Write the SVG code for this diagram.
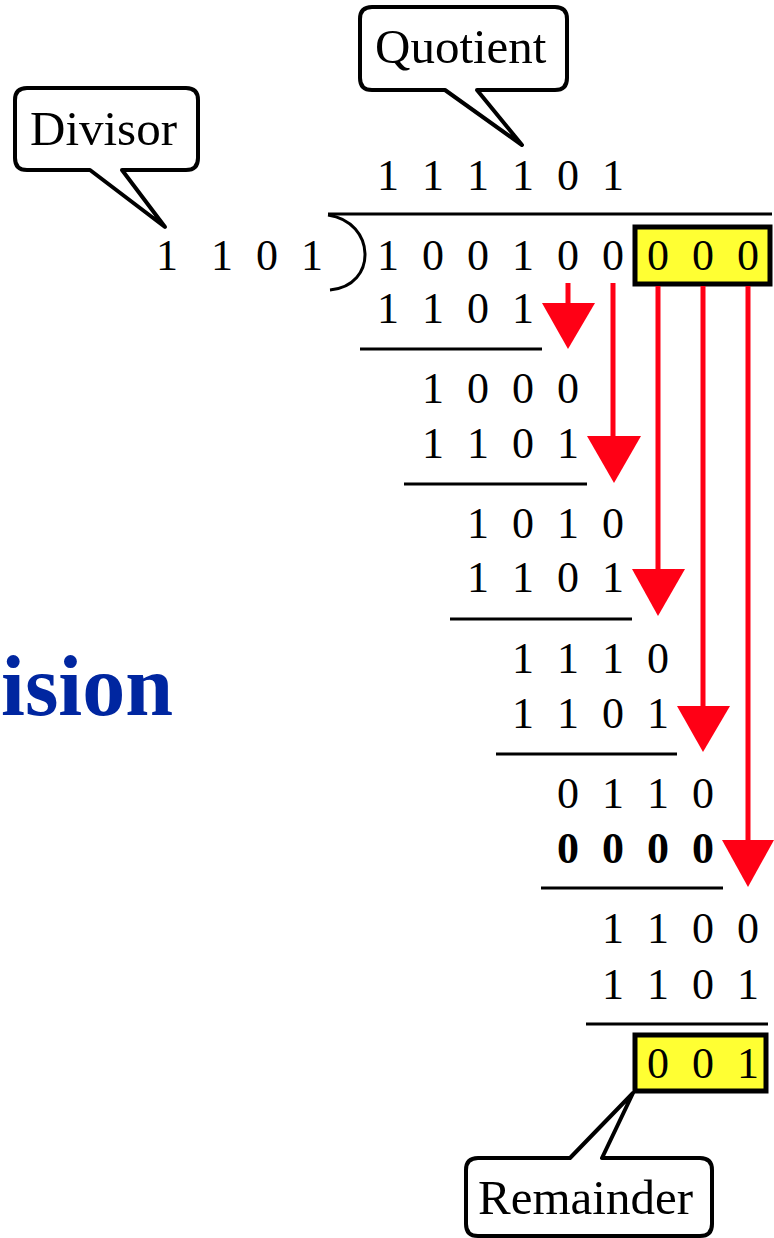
<svg xmlns="http://www.w3.org/2000/svg" width="774" height="1238" viewBox="0 0 774 1238">
<style>
.d{font-family:"Liberation Serif","Times New Roman",serif;font-size:44px;fill:#000;text-anchor:middle}
.b{font-weight:bold}
.lbl{font-family:"Liberation Serif","Times New Roman",serif;font-size:49px;fill:#000}
.call{fill:#fff;stroke:#000;stroke-width:4;stroke-linejoin:round}
.ul{stroke:#000;stroke-width:3}
.hl{fill:#ffff33;stroke:#000;stroke-width:5}
.ar{stroke:#ff0015;stroke-width:5;fill:none}
.ah{fill:#ff0015}
</style>
<rect width="774" height="1238" fill="#fff"/>
<text x="1" y="715" font-family="'Liberation Serif','Times New Roman',serif" font-weight="bold" font-size="86" fill="#0026a0">ision</text>
<g id="divisor-callout">
<path class="call" d="M27,88 H186 Q198,88 198,100 V158 Q198,170 186,170 H122 L165,227 L90,170 H27 Q15,170 15,158 V100 Q15,88 27,88 Z"/>
<text class="lbl" x="30" y="145">Divisor</text>
</g>
<g id="quotient-callout">
<path class="call" d="M372,7 H555 Q567,7 567,19 V78 Q567,90 555,90 H477 L522,145 L445,90 H372 Q360,90 360,78 V19 Q360,7 372,7 Z"/>
<text class="lbl" x="375" y="63">Quotient</text>
</g>
<g id="remainder-callout">
<path class="call" d="M478,1158 H570 L633,1093 L602,1158 H700 Q712,1158 712,1170 V1224 Q712,1236 700,1236 H478 Q466,1236 466,1224 V1170 Q466,1158 478,1158 Z"/>
<text class="lbl" x="478" y="1214">Remainder</text>
</g>
<g id="highlight-boxes">
<rect class="hl" x="635" y="227" width="135" height="57"/>
<rect class="hl" x="635" y="1035" width="131" height="56"/>
</g>
<g id="division-frame">
<line class="ul" x1="328" y1="214" x2="772" y2="214"/>
<path d="M328,215 C376,222 378,286 330,290" fill="none" stroke="#000" stroke-width="3"/>
<line class="ul" x1="360" y1="349" x2="542" y2="349"/>
<line class="ul" x1="404" y1="484" x2="587" y2="484"/>
<line class="ul" x1="450" y1="619" x2="632" y2="619"/>
<line class="ul" x1="496" y1="754" x2="677" y2="754"/>
<line class="ul" x1="541" y1="888" x2="723" y2="888"/>
<line class="ul" x1="586" y1="1024" x2="768" y2="1024"/>
</g>
<g id="digits">
<text class="d" x="388 433 478 523 568 613" y="190">111101</text>
<text class="d" x="167 222 267 312" y="270">1101</text>
<text class="d" x="388 433 478 523 568 613 658 703 748" y="270">100100000</text>
<text class="d" x="388 433 478 523" y="323">1101</text>
<text class="d" x="433 478 523 568" y="403">1000</text>
<text class="d" x="433 478 523 568" y="458">1101</text>
<text class="d" x="478 523 568 613" y="538">1010</text>
<text class="d" x="478 523 568 613" y="592">1101</text>
<text class="d" x="523 568 613 658" y="673">1110</text>
<text class="d" x="523 568 613 658" y="728">1101</text>
<text class="d" x="568 613 658 703" y="808">0110</text>
<text class="d b" x="568 613 658 703" y="863">0000</text>
<text class="d" x="613 658 703 748" y="943">1100</text>
<text class="d" x="613 658 703 748" y="999">1101</text>
<text class="d" x="658 703 748" y="1078">001</text>
</g>
<g id="connectors">
<line class="ar" x1="568" y1="283" x2="568" y2="306"/>
<polygon class="ah" points="542,303 595,303 568,349"/>
<line class="ar" x1="613" y1="283" x2="613" y2="439"/>
<polygon class="ah" points="587,436 641,436 614,483"/>
<line class="ar" x1="658" y1="286" x2="658" y2="572"/>
<polygon class="ah" points="632,569 685,569 658,616"/>
<line class="ar" x1="703" y1="286" x2="703" y2="709"/>
<polygon class="ah" points="677,706 730,706 703,752"/>
<line class="ar" x1="748" y1="286" x2="748" y2="843"/>
<polygon class="ah" points="722,840 774,840 748,887"/>
</g>
</svg>
